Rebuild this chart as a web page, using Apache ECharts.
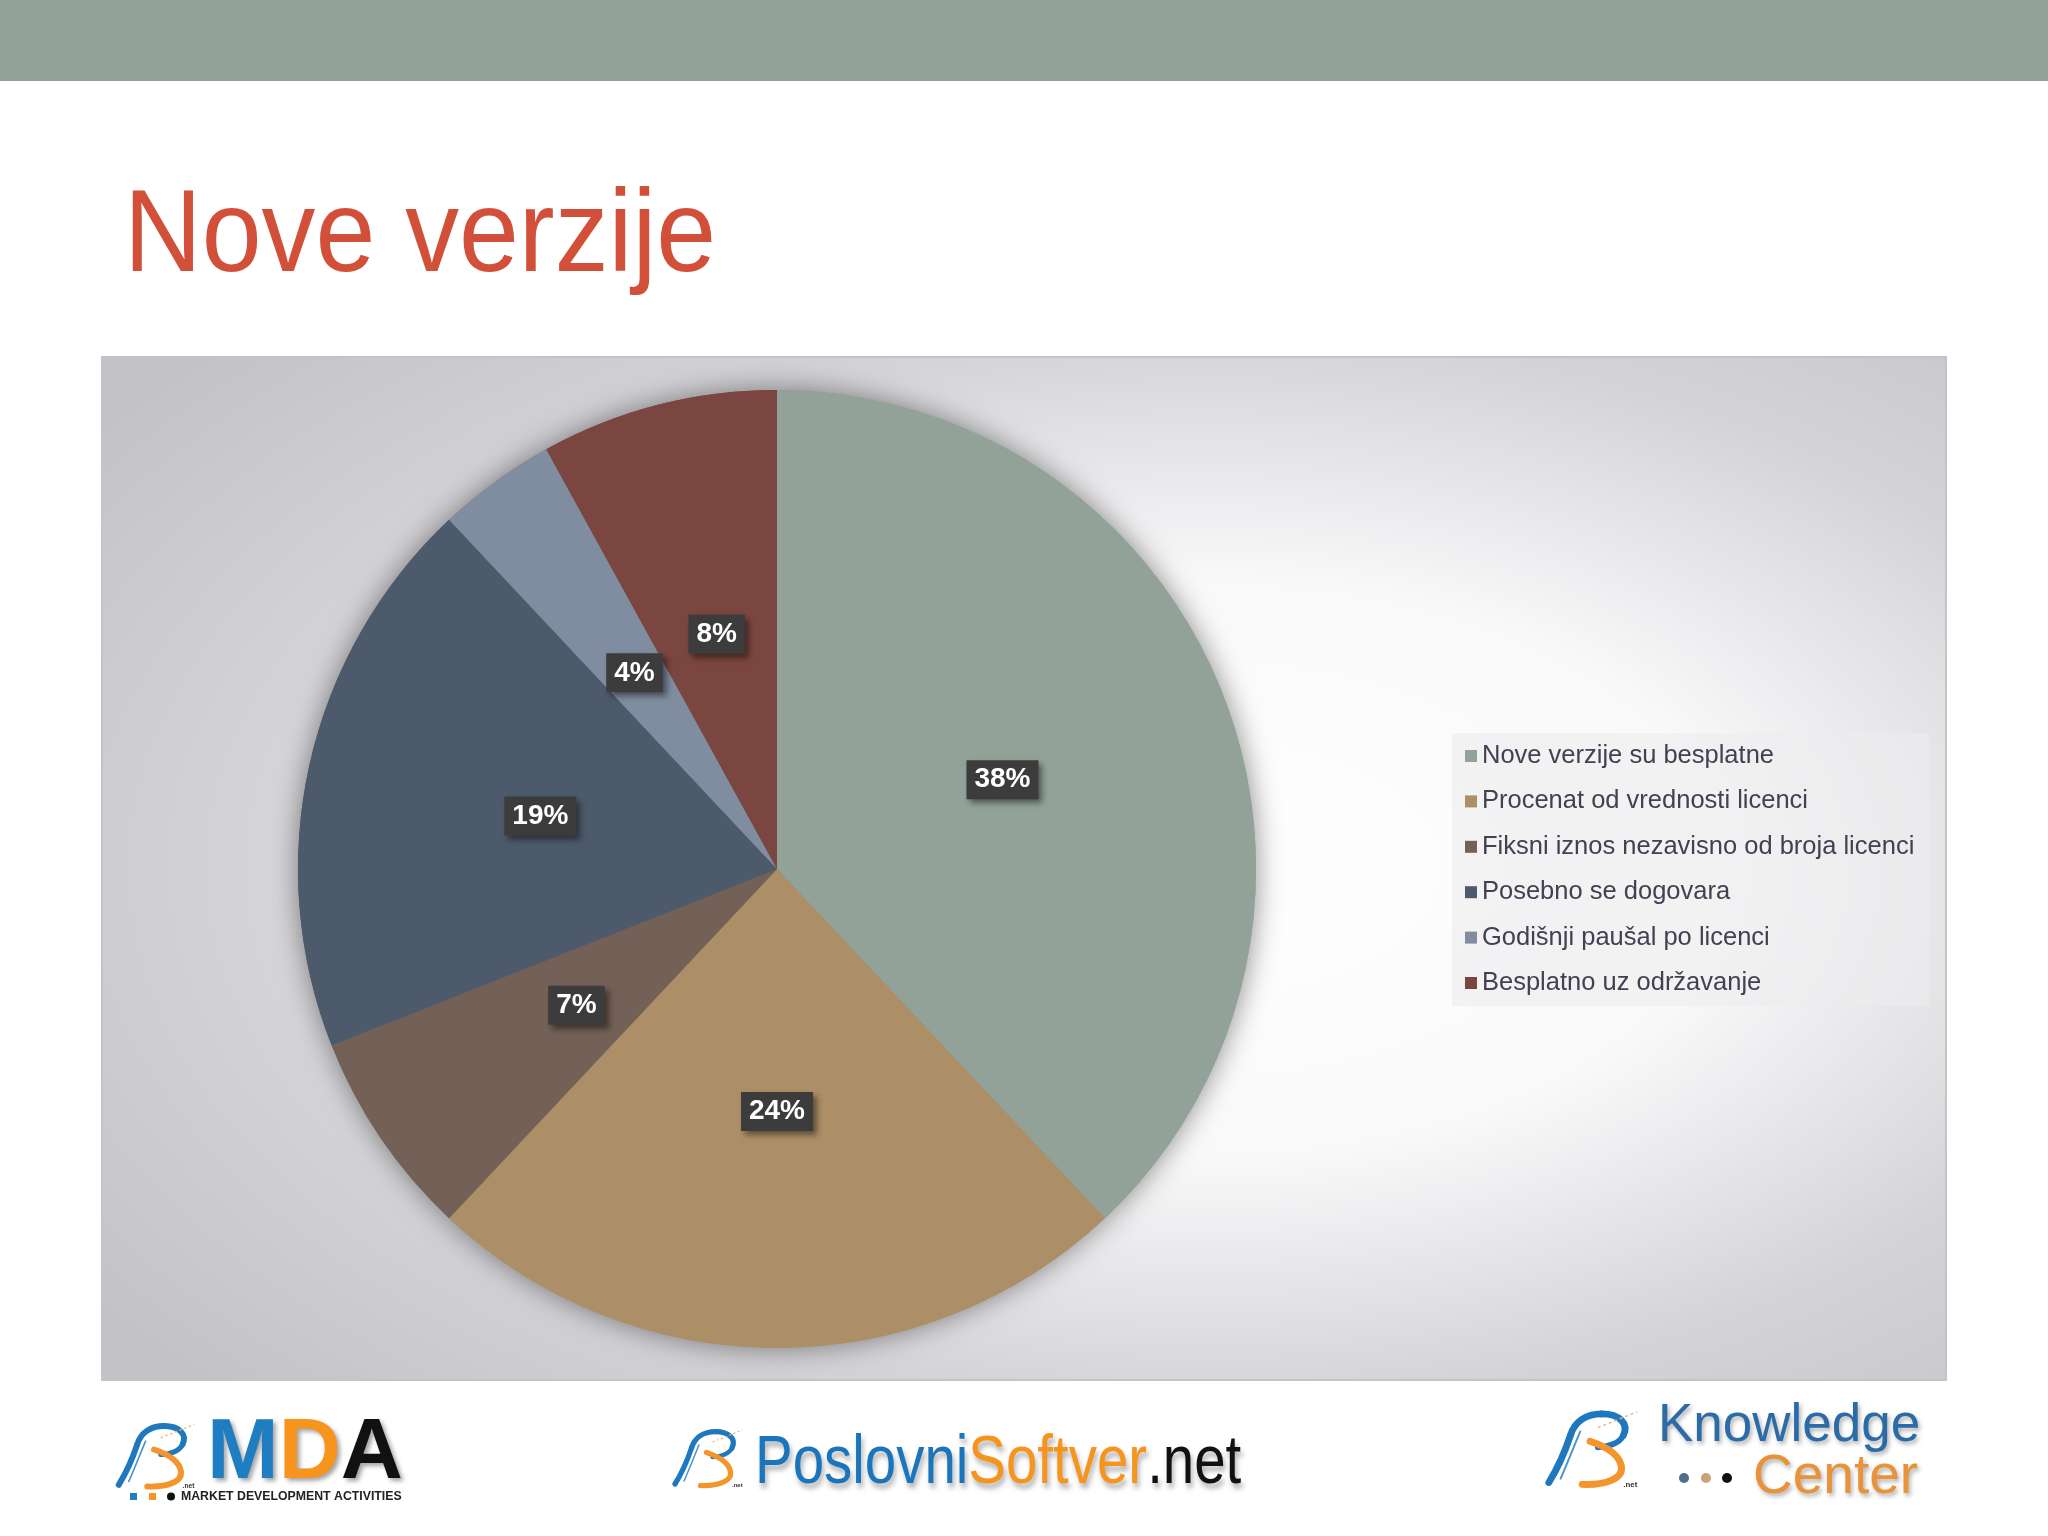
<!DOCTYPE html>
<html>
<head>
<meta charset="utf-8">
<script src="https://cdn.jsdelivr.net/npm/echarts@6/dist/echarts.min.js"></script>
<style>
html,body{margin:0;padding:0;background:#fff;}
#c{width:2048px;height:1536px;}
</style>
</head>
<body>
<div id="c"></div>
<script>
const titleText = 'Nove verzije';
const categories = [
  'Nove verzije su besplatne',
  'Procenat od vrednosti licenci',
  'Fiksni iznos nezavisno od broja licenci',
  'Posebno se dogovara',
  'Godišnji paušal po licenci',
  'Besplatno uz održavanje'
];
const values = [38, 24, 7, 19, 4, 8];
const palette = ['#93A299', '#AD8F67', '#736056', '#4D5A6B', '#808DA0', '#7B463F'];

const chart = echarts.init(document.getElementById('c'), null, {renderer: 'canvas'});

const pieData = categories.map((n, i) => ({name: n, value: values[i], itemStyle: {color: palette[i]}}));

function bz(p, color, w) {
  return {type: 'bezierCurve',
    shape: {x1: p[0], y1: p[1], cpx1: p[2], cpy1: p[3], cpx2: p[4], cpy2: p[5], x2: p[6], y2: p[7]},
    style: {fill: 'none', stroke: color, lineWidth: w, lineCap: 'round'}};
}
function swoosh(x, y, s) {
  const blue = '#1F78BE', orange = '#F3952A';
  return {
    type: 'group', x: x, y: y, scaleX: s, scaleY: s, z: 5,
    children: [
      bz([8, 76, 18, 60, 26, 40, 30, 28], blue, 7),
      bz([30, 28, 34, 14, 46, 6, 62, 6], blue, 7),
      bz([62, 6, 80, 6, 90, 16, 84, 28], blue, 7),
      bz([84, 28, 80, 36, 68, 40, 58, 40], blue, 6),
      bz([20, 72, 28, 54, 34, 38, 40, 24], '#4A95CF', 2),
      bz([50, 34, 62, 38, 80, 46, 82, 60], orange, 7),
      bz([82, 60, 84, 72, 66, 79, 42, 78], orange, 7),
      {type: 'line', shape: {x1: 58, y1: 20, x2: 98, y2: 4},
        style: {stroke: '#F3B27A', lineWidth: 1.5, lineDash: [3, 3]}},
      {type: 'text', x: 84, y: 74, style: {text: '.net', fill: '#333', font: 'bold 8px "Liberation Sans"'}}
    ]
  };
}

const option = {
  backgroundColor: '#ffffff',
  animation: false,
  graphic: [
    {type: 'rect', z: -20, shape: {x: 0, y: 0, width: 2048, height: 81}, style: {fill: '#93A299'}},
    {type: 'text', z: 5, x: 124, y: 239, scaleX: 0.92,
      style: {text: titleText, fill: '#D2503A', font: '117px "Liberation Sans", Arial, sans-serif', verticalAlign: 'middle'}},
    {type: 'rect', z: -20, x: 102, y: 357, scaleX: 1844 / 1023,
      shape: {x: 0, y: 0, width: 1023, height: 1023},
      style: {fill: new echarts.graphic.RadialGradient(0.6, 0.5, 0.74, [
        {offset: 0, color: '#ffffff'},
        {offset: 0.38, color: '#f9f9fa'},
        {offset: 0.7, color: '#d4d3d7'},
        {offset: 1, color: '#c3c2c7'}
      ])}},
    {type: 'rect', z: -19, shape: {x: 102, y: 357, width: 1844, height: 1023},
      style: {fill: 'none', stroke: '#c4c4c8', lineWidth: 2}},
    // MDA logo
    swoosh(112, 1421, 0.84),
    {type: 'text', z: 5, x: 207, y: 1454, style: {rich: {
        m: {fill: '#1F7DC1', font: 'bold 86px "Liberation Sans", Arial'},
        d: {fill: '#F7941D', font: 'bold 86px "Liberation Sans", Arial'},
        a: {fill: '#111111', font: 'bold 86px "Liberation Sans", Arial'}
      }, text: '{m|M}{d|D}{a|A}', verticalAlign: 'middle',
      textShadowColor: 'rgba(0,0,0,0.35)', textShadowBlur: 4, textShadowOffsetX: 3, textShadowOffsetY: 3}},
    {type: 'rect', z: 5, shape: {x: 130, y: 1493, width: 7, height: 7}, style: {fill: '#1F7DC1'}},
    {type: 'rect', z: 5, shape: {x: 149, y: 1493, width: 7, height: 7}, style: {fill: '#F7941D'}},
    {type: 'circle', z: 5, shape: {cx: 171, cy: 1496.5, r: 4}, style: {fill: '#111'}},
    {type: 'text', z: 5, x: 181, y: 1497, style: {text: 'MARKET DEVELOPMENT ACTIVITIES', fill: '#222',
      font: 'bold 12.3px "Liberation Sans", Arial', verticalAlign: 'middle'}},
    // PoslovniSoftver logo
    swoosh(669, 1427, 0.75),
    {type: 'text', z: 5, x: 755, y: 1464, scaleX: 0.83, style: {rich: {
        p: {fill: '#1B75BC', font: '68px "Liberation Sans", Arial'},
        s: {fill: '#F7941D', font: '68px "Liberation Sans", Arial'},
        n: {fill: '#111111', font: '68px "Liberation Sans", Arial'}
      }, text: '{p|Poslovni}{s|Softver}{n|.net}', verticalAlign: 'middle',
      textShadowColor: 'rgba(0,0,0,0.3)', textShadowBlur: 5, textShadowOffsetX: 2, textShadowOffsetY: 5}},
    // Knowledge Center logo
    swoosh(1541, 1408, 0.98),
    {type: 'text', z: 5, x: 1658, y: 1426, style: {text: 'Knowledge', fill: '#2B6CA8',
      font: '53px "Liberation Sans", Arial', verticalAlign: 'middle',
      textShadowColor: 'rgba(0,0,0,0.3)', textShadowBlur: 4, textShadowOffsetX: 2, textShadowOffsetY: 3}},
    {type: 'text', z: 5, x: 1753, y: 1478, style: {text: 'Center', fill: '#E8923A',
      font: '55px "Liberation Sans", Arial', verticalAlign: 'middle',
      textShadowColor: 'rgba(0,0,0,0.3)', textShadowBlur: 4, textShadowOffsetX: 2, textShadowOffsetY: 3}},
    {type: 'circle', z: 5, shape: {cx: 1684, cy: 1478, r: 5}, style: {fill: '#4E6E8E'}},
    {type: 'circle', z: 5, shape: {cx: 1706, cy: 1478, r: 5}, style: {fill: '#C8A27A'}},
    {type: 'circle', z: 5, shape: {cx: 1727, cy: 1478, r: 5}, style: {fill: '#111111'}}
  ],
  legend: {
    orient: 'vertical',
    left: 1452,
    top: 733,
    data: categories,
    icon: 'rect',
    itemWidth: 12,
    itemHeight: 12,
    itemGap: 17.4,
    padding: [9, 15, 9, 13],
    backgroundColor: 'rgba(236,236,239,0.6)',
    selectedMode: false,
    textStyle: {color: '#414152', fontSize: 25.5, lineHeight: 28, fontFamily: '"Liberation Sans", Arial, sans-serif'}
  },
  series: [
    {
      type: 'pie',
      name: 'shadow',
      center: [777, 869],
      radius: [0, 479],
      startAngle: 90,
      silent: true,
      z: 1,
      label: {show: false},
      labelLine: {show: false},
      itemStyle: {shadowBlur: 28, shadowColor: 'rgba(0,0,0,0.45)'},
      data: pieData
    },
    {
      type: 'pie',
      name: 'Nove verzije',
      center: [777, 869],
      radius: [0, 479],
      startAngle: 90,
      z: 3,
      emphasis: {disabled: true},
      itemStyle: {borderWidth: 0},
      labelLine: {show: false},
      label: {
        show: true,
        position: 'inside',
        formatter: p => Math.round(p.percent) + '%',
        color: '#ffffff',
        fontSize: 28,
        fontWeight: 'bold',
        fontFamily: '"Liberation Sans", Arial, sans-serif',
        backgroundColor: '#3c3c3c',
        padding: [6, 8, 5, 8],
        shadowColor: 'rgba(0,0,0,0.45)',
        shadowBlur: 6,
        shadowOffsetX: 4,
        shadowOffsetY: 4
      },
      data: pieData
    }
  ]
};
chart.setOption(option);
</script>
</body>
</html>
